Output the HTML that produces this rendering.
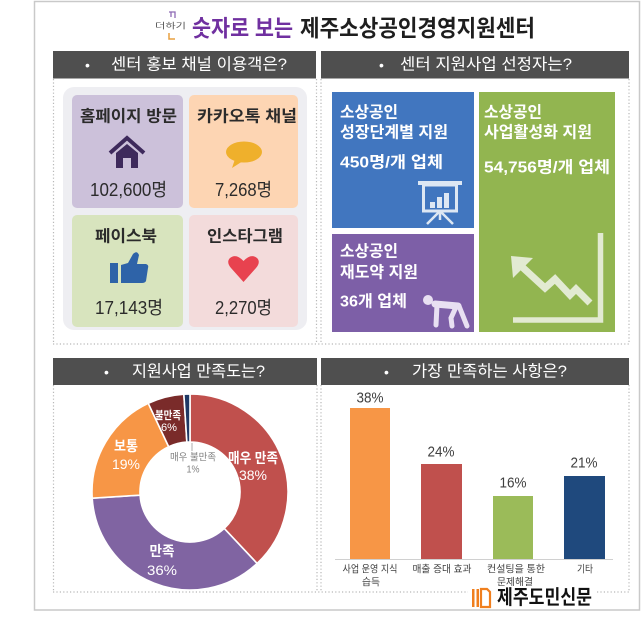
<!DOCTYPE html>
<html><head><meta charset="utf-8">
<style>
html,body{margin:0;padding:0;background:#fff;}
svg{display:block;}
text{font-family:"Liberation Sans","Noto Sans CJK KR",sans-serif;dominant-baseline:central;}
.b{font-weight:bold;}
</style></head>
<body>
<svg width="642" height="619" viewBox="0 0 642 619" xmlns="http://www.w3.org/2000/svg">
<rect width="642" height="619" fill="#fff"/>
<rect x="34.5" y="1.5" width="605" height="608.5" fill="#fff" stroke="#c9c9c9" stroke-width="1.5"/>

<!-- title -->
<path d="M169,12 h6 v6 M171,12 v5" stroke="#8e6bb5" stroke-width="1.3" fill="none"/>
<text x="155" y="26" font-size="8" fill="#555" textLength="31" lengthAdjust="spacingAndGlyphs">더하기</text>
<path d="M169,33 v6 h6" stroke="#e8a040" stroke-width="1.5" fill="none"/>
<text x="192" y="28" font-size="23" class="b" fill="#7030a0" textLength="101" lengthAdjust="spacingAndGlyphs">숫자로 보는</text>
<text x="300" y="28" font-size="23" class="b" fill="#1e1e1e" textLength="235" lengthAdjust="spacingAndGlyphs">제주소상공인경영지원센터</text>

<!-- headers top -->
<rect x="53" y="51" width="263" height="27.5" fill="#4f4f4f"/>
<rect x="321" y="51" width="308" height="27.5" fill="#4f4f4f"/>
<text x="85" y="65" font-size="14" fill="#fff">•</text>
<text x="111" y="65" font-size="16" fill="#fff" textLength="176" lengthAdjust="spacingAndGlyphs">센터 홍보 채널 이용객은?</text>
<text x="379" y="65" font-size="14" fill="#fff">•</text>
<text x="400" y="65" font-size="16" fill="#fff" textLength="172" lengthAdjust="spacingAndGlyphs">센터 지원사업 선정자는?</text>

<!-- dotted frames -->
<g stroke="#b8b8b8" stroke-width="1.2" stroke-dasharray="1.2 2.2" fill="none">
<path d="M53.5,79 V344 M316.5,79 V344 M321,79 V344 M629,79 V344 M53,344 H629"/>
<path d="M53.5,385 V592 M317,385 V592 M321,385 V592 M629,385 V592 M53,592 H629"/>
</g>

<!-- left panel -->
<rect x="63" y="87" width="244" height="243" rx="11" fill="#eeeef2"/>
<rect x="72" y="95" width="111" height="113" rx="5" fill="#ccc1da"/>
<rect x="189" y="95" width="109" height="113" rx="5" fill="#fdd5b3"/>
<rect x="72" y="215" width="111" height="112" rx="5" fill="#d8e4be"/>
<rect x="189" y="215" width="109" height="112" rx="5" fill="#f3dbdb"/>

<text x="80" y="117" font-size="16" class="b" fill="#2b2b2b" textLength="97" lengthAdjust="spacingAndGlyphs">홈페이지 방문</text>
<text x="197" y="117" font-size="16" class="b" fill="#2b2b2b" textLength="100" lengthAdjust="spacingAndGlyphs">카카오톡 채널</text>
<text x="90" y="190" font-size="18" fill="#2b2b2b" textLength="77" lengthAdjust="spacingAndGlyphs">102,600명</text>
<text x="215" y="190" font-size="18" fill="#2b2b2b" textLength="57" lengthAdjust="spacingAndGlyphs">7,268명</text>
<text x="95" y="237" font-size="16" class="b" fill="#2b2b2b" textLength="62" lengthAdjust="spacingAndGlyphs">페이스북</text>
<text x="207" y="237" font-size="16" class="b" fill="#2b2b2b" textLength="76" lengthAdjust="spacingAndGlyphs">인스타그램</text>
<text x="95" y="308" font-size="18" fill="#2b2b2b" textLength="68" lengthAdjust="spacingAndGlyphs">17,143명</text>
<text x="215" y="308" font-size="18" fill="#2b2b2b" textLength="57" lengthAdjust="spacingAndGlyphs">2,270명</text>

<!-- house -->
<polyline points="110,153 127,138 144,153" fill="none" stroke="#3e2a5c" stroke-width="4" stroke-linejoin="miter"/>
<polygon points="116,153 127,144 138,153 138,168 131,168 131,158 123,158 123,168 116,168" fill="#3e2a5c"/>
<!-- kakao bubble -->
<ellipse cx="244" cy="152" rx="18" ry="10.5" fill="#efb02c"/>
<path d="M235,159 L232,168 L243,161 Z" fill="#efb02c"/>
<!-- thumbs up -->
<rect x="110" y="263" width="8" height="20" fill="#2e63a8"/>
<path d="M121,265 L128,263 L133,254 Q137,250 139,255 L137,264 L146,264 Q149,265 148,268 L146,281 Q145,283 142,283 L121,283 Z" fill="#2e63a8"/>
<!-- heart -->
<path d="M243.5,282 L231,268 Q226,262 230,258 Q236,253 243.5,261 Q251,253 257,258 Q261,262 256,268 Z" fill="#e8424f"/>

<!-- right panel -->
<rect x="332" y="92" width="142" height="136" fill="#4176bf"/>
<rect x="479" y="92" width="136" height="240" fill="#92b550"/>
<rect x="332" y="234" width="142" height="98" fill="#7d5fa7"/>

<text x="340" y="113" font-size="16" class="b" fill="#fff" textLength="58" lengthAdjust="spacingAndGlyphs">소상공인</text>
<text x="340" y="133" font-size="16" class="b" fill="#fff" textLength="108" lengthAdjust="spacingAndGlyphs">성장단계별 지원</text>
<text x="340" y="163" font-size="16" class="b" fill="#fff" textLength="103" lengthAdjust="spacingAndGlyphs">450명/개 업체</text>
<text x="484" y="113" font-size="16" class="b" fill="#fff" textLength="58" lengthAdjust="spacingAndGlyphs">소상공인</text>
<text x="484" y="133" font-size="16" class="b" fill="#fff" textLength="108" lengthAdjust="spacingAndGlyphs">사업활성화 지원</text>
<text x="484" y="168" font-size="16" class="b" fill="#fff" textLength="126" lengthAdjust="spacingAndGlyphs">54,756명/개 업체</text>
<text x="340" y="252" font-size="16" class="b" fill="#fff" textLength="58" lengthAdjust="spacingAndGlyphs">소상공인</text>
<text x="340" y="273" font-size="16" class="b" fill="#fff" textLength="78" lengthAdjust="spacingAndGlyphs">재도약 지원</text>
<text x="340" y="302" font-size="16" class="b" fill="#fff" textLength="67" lengthAdjust="spacingAndGlyphs">36개 업체</text>

<!-- presentation icon -->
<g fill="#dde7f3" stroke="none">
<rect x="418" y="181" width="44" height="4"/>
<rect x="437" y="197" width="5" height="11"/>
<rect x="444" y="193" width="5" height="15"/>
<rect x="430" y="202" width="5" height="6"/>
</g>
<rect x="423.5" y="185" width="33" height="26" fill="none" stroke="#dde7f3" stroke-width="3"/>
<path d="M440,211 L427,224 M440,211 L453,224 M440,211 V220" stroke="#dde7f3" stroke-width="2.5" fill="none"/>

<!-- growth chart icon -->
<path d="M600.5,233 V320 H513" stroke="#e2ead2" stroke-width="5.5" fill="none"/>
<polyline points="520,265 545,288 555,279 570,295 576,289 590,303" fill="none" stroke="#e2ead2" stroke-width="7" stroke-linejoin="miter"/>
<polygon points="511,256 533,258 513,278" fill="#e2ead2"/>

<!-- person icon -->
<g stroke="#e8e0f2" fill="none" stroke-linecap="round">
<circle cx="428" cy="300" r="5" fill="#e8e0f2" stroke="none"/>
<path d="M435,304 L458,306" stroke-width="7"/>
<path d="M437,305 L436,325" stroke-width="5"/>
<path d="M456,307 L451,318 L452,326" stroke-width="5"/>
<path d="M459,306 L467,326" stroke-width="5"/>
</g>

<!-- bottom headers -->
<rect x="53" y="358" width="264" height="27" fill="#4f4f4f"/>
<rect x="321" y="358" width="308" height="27" fill="#4f4f4f"/>
<text x="104" y="372" font-size="14" fill="#fff">•</text>
<text x="132" y="372" font-size="16" fill="#fff" textLength="133" lengthAdjust="spacingAndGlyphs">지원사업 만족도는?</text>
<text x="384" y="372" font-size="14" fill="#fff">•</text>
<text x="412" y="372" font-size="16" fill="#fff" textLength="155" lengthAdjust="spacingAndGlyphs">가장 만족하는 사항은?</text>

<!-- donut -->
<g stroke="#fff" stroke-width="1.6">
<path d="M190,394 A98,98 0 0 1 257.08,563.44 L224.23,528.45 A50,50 0 0 0 190,442 Z" fill="#c0504d"/>
<path d="M257.08,563.44 A98,98 0 0 1 92.19,498.15 L140.10,495.14 A50,50 0 0 0 224.23,528.45 Z" fill="#8064a2"/>
<path d="M92.19,498.15 A98,98 0 0 1 148.27,403.33 L168.71,446.76 A50,50 0 0 0 140.10,495.14 Z" fill="#f79646"/>
<path d="M148.27,403.33 A98,98 0 0 1 183.85,394.19 L186.86,442.10 A50,50 0 0 0 168.71,446.76 Z" fill="#7a2b2a"/>
<path d="M183.85,394.19 A98,98 0 0 1 190,394 L190,442 A50,50 0 0 0 186.86,442.10 Z" fill="#1f3864"/>
</g>
<line x1="192" y1="443" x2="192" y2="451" stroke="#999" stroke-width="0.8"/>
<text x="253" y="458" font-size="14" class="b" fill="#fff" text-anchor="middle" textLength="50" lengthAdjust="spacingAndGlyphs">매우 만족</text>
<text x="253" y="475" font-size="14" fill="#fff" text-anchor="middle" textLength="28" lengthAdjust="spacingAndGlyphs">38%</text>
<text x="162" y="551" font-size="14" class="b" fill="#fff" text-anchor="middle" textLength="25" lengthAdjust="spacingAndGlyphs">만족</text>
<text x="162" y="570" font-size="14" fill="#fff" text-anchor="middle" textLength="30" lengthAdjust="spacingAndGlyphs">36%</text>
<text x="126" y="446" font-size="14" class="b" fill="#fff" text-anchor="middle" textLength="24" lengthAdjust="spacingAndGlyphs">보통</text>
<text x="126" y="464" font-size="14" fill="#fff" text-anchor="middle" textLength="28" lengthAdjust="spacingAndGlyphs">19%</text>
<text x="168" y="416" font-size="11" class="b" fill="#fff" text-anchor="middle" textLength="26" lengthAdjust="spacingAndGlyphs">불만족</text>
<text x="169" y="428" font-size="11" fill="#fff" text-anchor="middle" textLength="16" lengthAdjust="spacingAndGlyphs">6%</text>
<text x="193" y="458" font-size="10" fill="#7f7f7f" text-anchor="middle" textLength="46" lengthAdjust="spacingAndGlyphs">매우 불만족</text>
<text x="193" y="470" font-size="10" fill="#7f7f7f" text-anchor="middle" textLength="13" lengthAdjust="spacingAndGlyphs">1%</text>

<!-- bar chart -->
<rect x="350" y="408" width="40" height="151" fill="#f79646"/>
<rect x="421" y="464" width="41" height="95" fill="#c0504d"/>
<rect x="493" y="496" width="40" height="63" fill="#9bbb59"/>
<rect x="564" y="476" width="41" height="83" fill="#1f497d"/>
<line x1="335" y1="559.5" x2="613" y2="559.5" stroke="#d0d0d0" stroke-width="1"/>
<text x="370" y="398" font-size="15" fill="#404040" text-anchor="middle" textLength="27" lengthAdjust="spacingAndGlyphs">38%</text>
<text x="441" y="452" font-size="15" fill="#404040" text-anchor="middle" textLength="27" lengthAdjust="spacingAndGlyphs">24%</text>
<text x="513" y="483" font-size="15" fill="#404040" text-anchor="middle" textLength="27" lengthAdjust="spacingAndGlyphs">16%</text>
<text x="584" y="463" font-size="15" fill="#404040" text-anchor="middle" textLength="27" lengthAdjust="spacingAndGlyphs">21%</text>
<text x="370" y="570" font-size="10" fill="#404040" text-anchor="middle" textLength="55" lengthAdjust="spacingAndGlyphs">사업 운영 지식</text>
<text x="371" y="583" font-size="10" fill="#404040" text-anchor="middle" textLength="18" lengthAdjust="spacingAndGlyphs">습득</text>
<text x="442" y="570" font-size="10" fill="#404040" text-anchor="middle" textLength="59" lengthAdjust="spacingAndGlyphs">매출 증대 효과</text>
<text x="516" y="570" font-size="10" fill="#404040" text-anchor="middle" textLength="58" lengthAdjust="spacingAndGlyphs">컨설팅을 통한</text>
<text x="515" y="583" font-size="10" fill="#404040" text-anchor="middle" textLength="36" lengthAdjust="spacingAndGlyphs">문제해결</text>
<text x="585" y="570" font-size="10" fill="#404040" text-anchor="middle" textLength="16" lengthAdjust="spacingAndGlyphs">기타</text>

<!-- logo -->
<rect x="468" y="586" width="128" height="22" fill="#fff"/>
<rect x="472" y="589" width="2.5" height="18" fill="#f07f1e"/>
<rect x="476.5" y="589" width="2.5" height="18" fill="#f07f1e"/>
<path d="M481,589 H487 L490,592 V607 H481 Z" fill="none" stroke="#f07f1e" stroke-width="2.2"/>
<text x="497" y="598" font-size="20" class="b" fill="#111" textLength="95" lengthAdjust="spacingAndGlyphs">제주도민신문</text>
</svg>
</body></html>
